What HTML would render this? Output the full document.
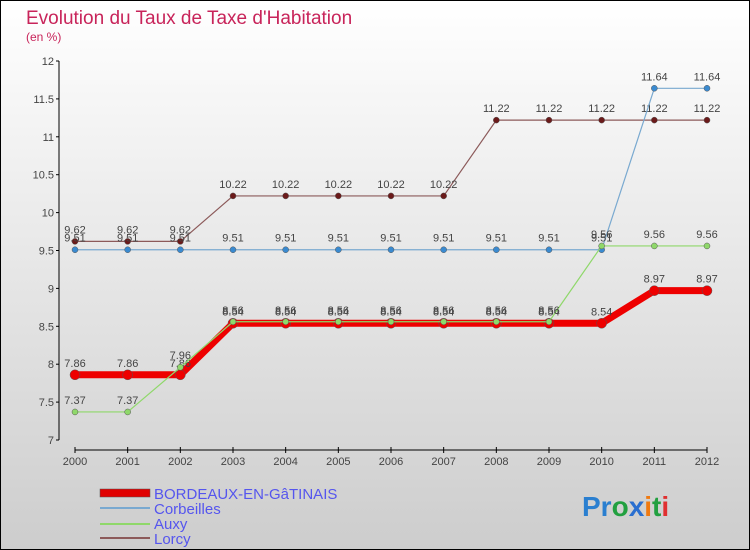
<!DOCTYPE html>
<html><head><meta charset="utf-8"><style>
body{margin:0}
#c{width:750px;height:550px;position:relative;overflow:hidden}
svg text{font-family:"Liberation Sans",sans-serif}
</style></head><body>
<div id="c">
<svg id="s" width="750" height="550" xmlns="http://www.w3.org/2000/svg">
<defs><linearGradient id="bg" x1="0" y1="0" x2="0" y2="1"><stop offset="0" stop-color="#ffffff"/><stop offset="1" stop-color="#cdcdcd"/></linearGradient></defs>
<rect x="0.5" y="0.5" width="749" height="549" fill="url(#bg)" stroke="#000"/>
<text x="26" y="24" font-size="19" fill="#c8245a">Evolution du Taux de Taxe d'Habitation</text>
<text x="26" y="41" font-size="12" fill="#c8245a">(en %)</text>
<g id="axes"></g><g id="series"></g>
<g>
<rect x="100" y="489" width="50" height="8" fill="#e00000" stroke="#555" stroke-width="0.5"/>
<text x="154" y="499" font-size="15" fill="#5555ee">BORDEAUX-EN-GâTINAIS</text>
<line x1="100" y1="508" x2="150" y2="508" stroke="#79a9d0" stroke-width="2"/>
<text x="154" y="514" font-size="15" fill="#5555ee">Corbeilles</text>
<line x1="100" y1="524" x2="150" y2="524" stroke="#8fd86a" stroke-width="2"/>
<text x="154" y="529" font-size="15" fill="#5555ee">Auxy</text>
<line x1="100" y1="538" x2="150" y2="538" stroke="#8c5a5a" stroke-width="2"/>
<text x="154" y="544" font-size="15" fill="#5555ee">Lorcy</text>
</g>
<g font-size="28" font-weight="bold">
<text x="582" y="516"><tspan fill="#2a7fd0">Pr</tspan><tspan fill="#22a040">o</tspan><tspan fill="#2a6fd0">x</tspan><tspan fill="#f07a10">i</tspan><tspan fill="#22a040">t</tspan><tspan fill="#e03030">i</tspan></text>
</g>
</svg></div>
<script>
const years=[2000,2001,2002,2003,2004,2005,2006,2007,2008,2009,2010,2011,2012];
const yTicks=[7,7.5,8,8.5,9,9.5,10,10.5,11,11.5,12];
const bordeaux=[7.86,7.86,7.86,8.54,8.54,8.54,8.54,8.54,8.54,8.54,8.54,8.97,8.97];
const corbeilles=[9.51,9.51,9.51,9.51,9.51,9.51,9.51,9.51,9.51,9.51,9.51,11.64,11.64];
const auxy=[7.37,7.37,7.96,8.56,8.56,8.56,8.56,8.56,8.56,8.56,9.56,9.56,9.56];
const lorcy=[9.62,9.62,9.62,10.22,10.22,10.22,10.22,10.22,11.22,11.22,11.22,11.22,11.22];
const NS="http://www.w3.org/2000/svg";
const X=i=>75+i*(707-75)/12, Y=v=>440-(v-7)*(440-61)/5;
function mk(t,a,p){const e=document.createElementNS(NS,t);for(const k in a)e.setAttribute(k,a[k]);p.appendChild(e);return e;}
const ax=document.getElementById('axes');
mk('line',{x1:59,y1:61,x2:59,y2:440,stroke:'#000'},ax);
mk('line',{x1:75,y1:450,x2:707,y2:450,stroke:'#000'},ax);
yTicks.forEach(v=>{mk('line',{x1:56,y1:Y(v),x2:59,y2:Y(v),stroke:'#000'},ax);
 const t=mk('text',{x:54,y:Y(v)+4,'font-size':11,'text-anchor':'end',fill:'#444'},ax);t.textContent=v;
 });
years.forEach((y,i)=>{mk('line',{x1:X(i),y1:447,x2:X(i),y2:453,stroke:'#000'},ax);
 const t=mk('text',{x:X(i),y:465,'font-size':11,'text-anchor':'middle',fill:'#444'},ax);t.textContent=y;
 });
const sg=document.getElementById('series');
function draw(name,data,color,w,mc,r){
 const g=mk('g',{},sg);
 
 
 mk('polyline',{points:data.map((v,i)=>X(i)+','+Y(v)).join(' '),fill:'none',stroke:color,'stroke-width':w,'stroke-linejoin':'round'},g);
 data.forEach((v,i)=>{const c=mk('circle',{cx:X(i),cy:Y(v),r:r,fill:mc,stroke:'#555','stroke-width':0.5},g);
  
  const t=mk('text',{x:X(i),y:Y(v)-8,'font-size':11,'text-anchor':'middle',fill:'#444'},g);t.textContent=v;
  });
}
draw('lorcy',lorcy,'#8c5a5a',1.2,'#6b1a1a',3);
draw('corbeilles',corbeilles,'#79a9d0',1.2,'#3a8ad0',3);
draw('bordeaux',bordeaux,'#ee0000',7,'#ee0000',5);
draw('auxy',auxy,'#8fd86a',1.2,'#8fd86a',3);
</script>
</body></html>
